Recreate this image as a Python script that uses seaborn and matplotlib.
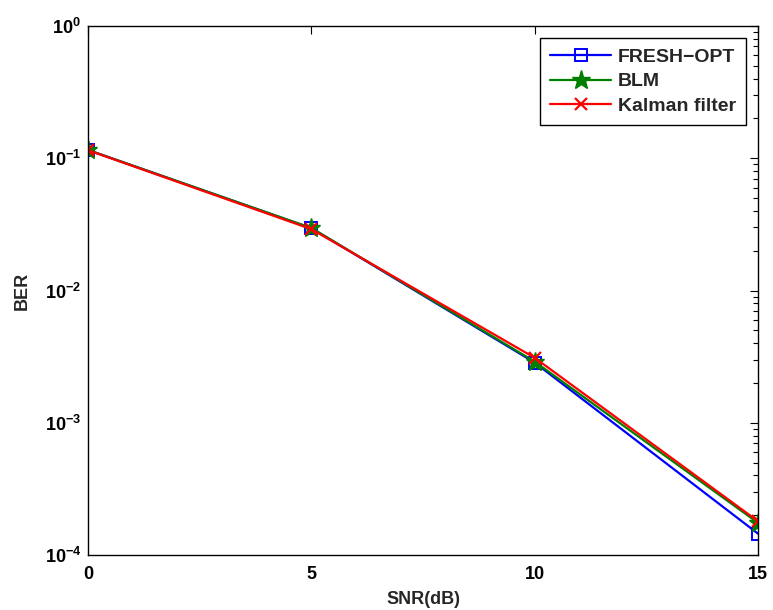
import matplotlib
matplotlib.use("Agg")
import matplotlib.pyplot as plt
import seaborn as sns
import pandas as pd
import numpy as np
from matplotlib.ticker import LogLocator, FixedLocator

snr = [0, 5, 10, 15]
fresh_opt = [0.1155, 0.0296, 2.85e-3, 1.45e-4]
blm = [0.1155, 0.0297, 2.90e-3, 1.75e-4]
kalman = [0.1150, 0.0291, 3.10e-3, 1.80e-4]
labels = ["FRESH\u2212OPT", "BLM", "Kalman filter"]

sns.set_theme(style="white")
plt.rcParams['font.family'] = ['Liberation Sans', 'DejaVu Sans']
plt.rcParams['font.weight'] = 'bold'
plt.rcParams['mathtext.fontset'] = 'custom'
plt.rcParams['mathtext.rm'] = 'Liberation Sans:bold'
plt.rcParams['mathtext.bf'] = 'Liberation Sans:bold'
plt.rcParams['mathtext.default'] = 'bf'

df = pd.concat([
    pd.DataFrame({"snr": snr, "ber": fresh_opt, "method": labels[0]}),
    pd.DataFrame({"snr": snr, "ber": blm, "method": labels[1]}),
    pd.DataFrame({"snr": snr, "ber": kalman, "method": labels[2]}),
])

fig = plt.figure(figsize=(7.73, 6.10), dpi=100)
ax = fig.add_axes([88/773, 1-555/610, (758-88)/773, (555-26)/610])

styles = {
    labels[0]: dict(color="#0000ff", marker="s", mfc="none", mec="#0000ff", ms=8.5, mew=1.4),
    labels[1]: dict(color="#008000", marker="*", mfc="#008000", mec="#008000", ms=14, mew=1),
    labels[2]: dict(color="#ff0000", marker="x", mfc="#ff0000", mec="#ff0000", ms=8, mew=1.6),
}
for m in labels:
    sub = df[df["method"] == m]
    st = styles[m]
    sns.lineplot(data=sub, x="snr", y="ber", ax=ax, label=m, color=st["color"],
                 marker=st["marker"], markersize=st["ms"], markerfacecolor=st["mfc"],
                 markeredgecolor=st["mec"], markeredgewidth=st["mew"], linewidth=1.6,
                 estimator=None, sort=False)

ax.set_yscale("log")
ax.set_ylim(1e-4, 1)
ax.set_xlim(0, 15)
ax.xaxis.set_major_locator(FixedLocator([0, 5, 10, 15]))
ax.yaxis.set_major_locator(LogLocator(base=10, numticks=10))
ax.yaxis.set_minor_locator(LogLocator(base=10, subs=np.arange(2, 10), numticks=20))
ax.tick_params(axis="both", which="both", direction="in", top=True, right=True,
               labelsize=13, colors="black")
ax.tick_params(which="major", length=6, width=0.8)
ax.tick_params(which="minor", length=3.5, width=0.8)
ax.tick_params(axis="x", pad=8)
ax.tick_params(axis="y", pad=5)
for lab in ax.get_xticklabels():
    lab.set_fontweight("bold")
for s in ax.spines.values():
    s.set_color("black")
    s.set_linewidth(1.0)
ax.set_xlabel("SNR(dB)", fontsize=13, fontweight="bold", labelpad=6)
ax.set_ylabel("BER", fontsize=13, fontweight="bold", labelpad=10)

leg = ax.legend(loc="upper right", fontsize=14, frameon=True, fancybox=False,
                edgecolor="black", framealpha=1, borderaxespad=0.6,
                handlelength=3.1, labelspacing=0.35, borderpad=0.55, handletextpad=0.35)
leg.get_frame().set_linewidth(1.0)
for t in leg.get_texts():
    t.set_fontweight("bold")

fig.savefig("out.png", dpi=100)
